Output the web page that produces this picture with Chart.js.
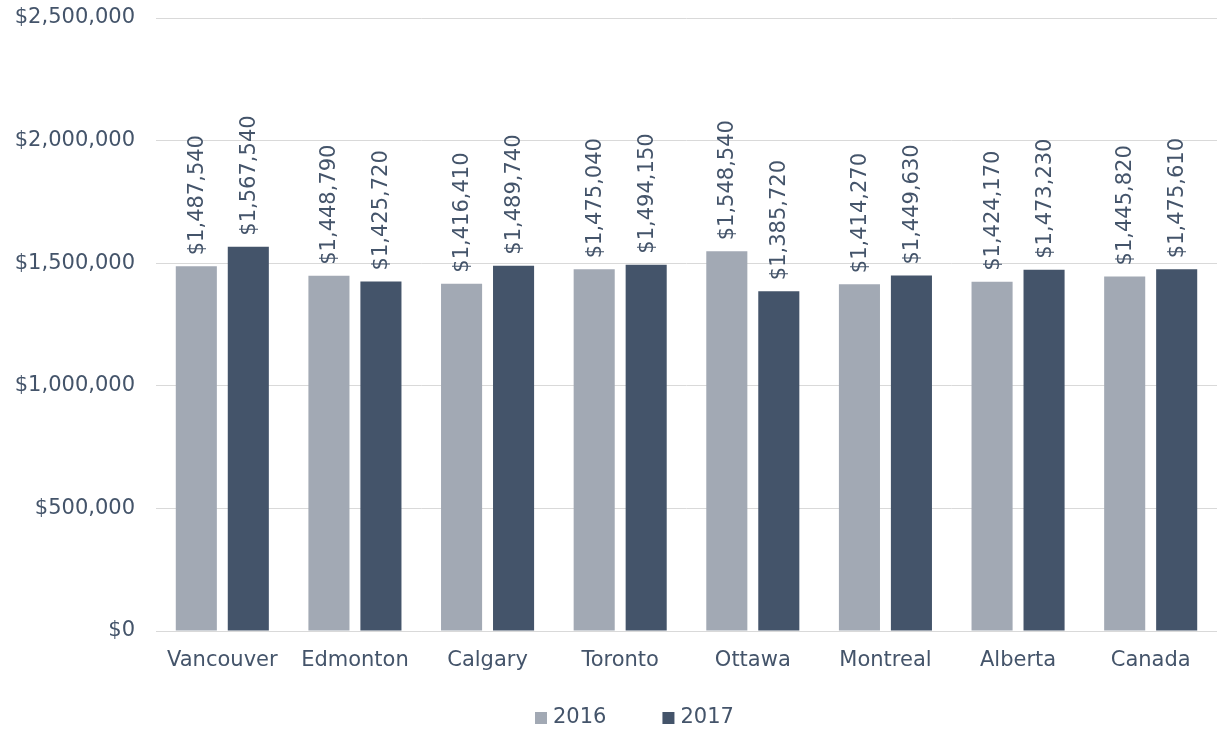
<!DOCTYPE html>
<html><head><meta charset="utf-8">
<script src="https://cdn.jsdelivr.net/npm/chart.js@4/dist/chart.umd.min.js"></script>
<style>html,body{margin:0;padding:0;background:#fff}#wrap{width:1217px;height:731px}</style>
</head><body><div id="wrap"><canvas id="c" width="1217" height="731"></canvas></div>
<script>
const categories = ["Vancouver","Edmonton","Calgary","Toronto","Ottawa","Montreal","Alberta","Canada"];
const values2016 = [1487540,1448790,1416410,1475040,1548540,1414270,1424170,1445820];
const values2017 = [1567540,1425720,1489740,1494150,1385720,1449630,1473230,1475610];
const seriesNames = ["2016","2017"];
const yTicks = [0,500000,1000000,1500000,2000000,2500000];

const TXT = '#44546a';
const FONT = 'Verdana, "DejaVu Sans", sans-serif';
const FS = 21;
const fmt = v => '$' + v.toLocaleString('en-US');

const labelPlugin = {
  id: 'vlabels',
  afterDatasetsDraw(chart) {
    const ctx = chart.ctx;
    ctx.save();
    ctx.font = FS + 'px ' + FONT;
    ctx.fillStyle = TXT;
    ctx.textAlign = 'left';
    ctx.textBaseline = 'middle';
    chart.data.datasets.forEach((ds, i) => {
      chart.getDatasetMeta(i).data.forEach((bar, j) => {
        ctx.save();
        ctx.translate(bar.x + 1, bar.y - 11);
        ctx.rotate(-Math.PI / 2);
        ctx.fillText(fmt(ds.data[j]), 0, 0);
        ctx.restore();
      });
    });
    ctx.restore();
  }
};

const legendPlugin = {
  id: 'customLegend',
  afterDraw(chart) {
    const ctx = chart.ctx;
    ctx.save();
    ctx.font = FS + 'px ' + FONT;
    ctx.textBaseline = 'middle';
    ctx.textAlign = 'left';
    let x = 535;
    const y = 718;
    chart.data.datasets.forEach(ds => {
      ctx.fillStyle = ds.backgroundColor;
      ctx.fillRect(x, y - 6, 12, 12);
      ctx.fillStyle = TXT;
      ctx.fillText(ds.label, x + 18, y);
      x += 18 + ctx.measureText(ds.label).width + 56;
    });
    ctx.restore();
  }
};

new Chart(document.getElementById('c'), {
  type: 'bar',
  data: {
    labels: categories,
    datasets: [
      { label: seriesNames[0], data: values2016, backgroundColor: '#a2a9b4' },
      { label: seriesNames[1], data: values2017, backgroundColor: '#44546a' }
    ]
  },
  options: {
    responsive: false,
    animation: false,
    layout: { padding: { top: 18, right: 0, left: 0, bottom: 50 } },
    datasets: { bar: { categoryPercentage: 0.784, barPercentage: 0.79 } },
    plugins: {
      legend: { display: false },
      tooltip: { enabled: false }
    },
    scales: {
      x: {
        afterFit(axis) { axis.height = 50; axis.paddingLeft = 0; axis.paddingRight = 0; },
        grid: { display: false, drawTicks: false },
        border: { color: '#d9d9d9' },
        ticks: { font: { family: FONT, size: FS }, color: TXT, padding: 17 }
      },
      y: {
        min: 0, max: 2500000,
        afterBuildTicks(axis) { axis.ticks = yTicks.map(v => ({ value: v })); },
        afterFit(axis) { axis.width = 156; axis.paddingTop = 0; axis.paddingBottom = 0; },
        grid: { color: '#d9d9d9', drawTicks: false },
        border: { display: false },
        ticks: { font: { family: FONT, size: FS }, color: TXT, padding: 21, callback: v => fmt(v) }
      }
    }
  },
  plugins: [labelPlugin, legendPlugin]
});
</script></body></html>
